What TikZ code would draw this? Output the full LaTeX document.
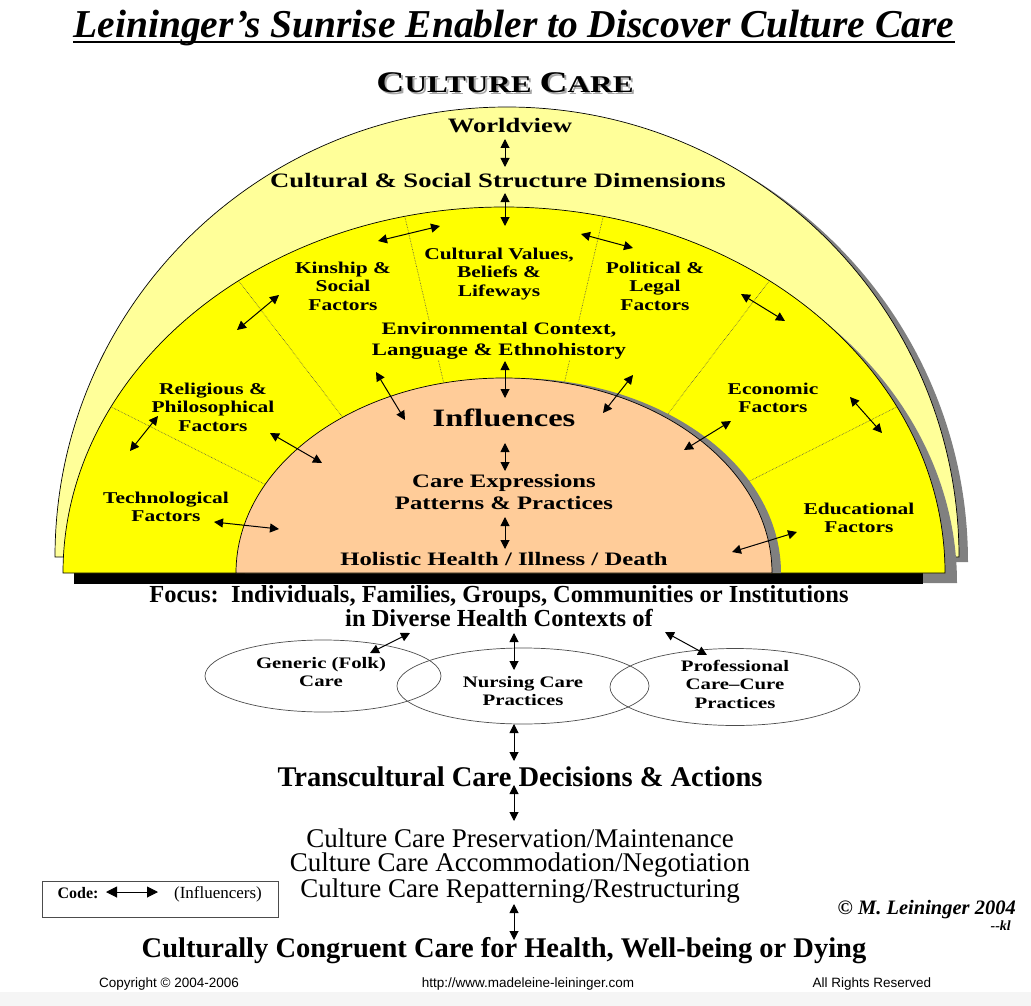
\documentclass[tikz,border=0pt]{standalone}
\usepackage{fontspec}
\setmainfont{Liberation Serif}
\newfontfamily\stretchserif[FakeStretch=1.3]{Liberation Serif}
\newfontfamily\footfont{Liberation Sans}
\usetikzlibrary{arrows.meta,shapes.geometric}

\definecolor{paleyellow}{HTML}{FFFF99}
\definecolor{sunyellow}{HTML}{FFFF00}
\definecolor{peach}{HTML}{FFCC99}
\definecolor{shadowgray}{HTML}{808080}

\newcommand{\culturecare}{{\fontsize{30}{30}\selectfont C}ULTURE {\fontsize{30}{30}\selectfont C}ARE}

\tikzset{
  infl/.style={{Triangle[length=9pt,width=9pt]}-{Triangle[length=9pt,width=9pt]}, line width=1pt},
  divider/.style={densely dotted, line width=0.6pt, black!70},
  heading/.style={font=\stretchserif\bfseries\fontsize{24}{24}\selectfont, inner sep=0pt, anchor=base},
  layer/.style={font=\stretchserif\bfseries\fontsize{20.5}{23}\selectfont, inner sep=0pt, anchor=base},
  factor/.style={font=\stretchserif\bfseries\fontsize{16.5}{18.5}\selectfont, align=center, inner sep=0pt},
  core/.style={font=\stretchserif\bfseries\fontsize{19}{22}\selectfont, align=center, inner sep=0pt},
  care/.style={draw=black!70, line width=0.7pt, ellipse, inner sep=0pt},
  caretext/.style={font=\stretchserif\bfseries\fontsize{16}{18.5}\selectfont, align=center, inner sep=0pt},
  outcome/.style={font=\bfseries\fontsize{28.5}{30}\selectfont, inner sep=0pt, anchor=base},
  footer/.style={font=\footfont\fontsize{13.5}{15}\selectfont, inner sep=0pt, anchor=base},
}

\begin{document}
\begin{tikzpicture}[x=1pt,y=-1pt]
    \useasboundingbox (0,0) rectangle (1031,1006);
    \fill[black!4] (0,992) rectangle (1031,1006);

    % Title
    \node[font=\bfseries\itshape\fontsize{39.5}{42}\selectfont, inner sep=0pt, anchor=base] (title) at (514,38)
        {Leininger’s Sunrise Enabler to Discover Culture Care};
    \draw[line width=1.8pt] ([yshift=-4pt]title.base west) -- ([yshift=-4pt]title.base east);

    % Heading with grey shadow
    \node[heading, text=black!35] (headshadow) at (507,95) {\culturecare};
    \node[heading] (heading) at (505,93) {\culturecare};

    % Outer arch (worldview)
    \fill[shadowgray] (64,562) arc[start angle=180, end angle=0, x radius=452pt, y radius=450pt] -- cycle;
    \draw[fill=paleyellow, line width=0.7pt] (55,557) arc[start angle=180, end angle=0, x radius=452pt, y radius=450pt] -- cycle;

    % Middle arch (social structure factors) and horizon bar
    \fill[shadowgray] (75,583) arc[start angle=180, end angle=0, x radius=441pt, y radius=366pt] -- cycle;
    \fill[black] (74,573) rectangle (923,584);
    \draw[fill=sunyellow, line width=0.7pt] (63,573) arc[start angle=180, end angle=0, x radius=441pt, y radius=366pt] -- cycle;

    % Sector dividers
    \foreach \a in {27,53,77,103,127,153}
        \draw[divider] ({504+441*cos(\a)},{573-366*sin(\a)}) -- ({504+268*cos(\a)},{573-195*sin(\a)});

    % Inner arch (care expressions)
    \fill[shadowgray] (245,573) arc[start angle=180, end angle=0, x radius=268pt, y radius=195pt] -- cycle;
    \draw[fill=peach, line width=0.7pt] (236,573) arc[start angle=180, end angle=0, x radius=268pt, y radius=195pt] -- cycle;

    % Outer arch labels
    \node[layer] (worldview) at (510,133) {Worldview};
    \node[layer] (dimensions) at (498,187) {Cultural \& Social Structure Dimensions};

    % Factors
    \node[factor] (kinship) at (343,286) {Kinship \&\\Social\\Factors};
    \node[factor] (values) at (499,274) {Cultural Values,\\Beliefs \&\\Lifeways};
    \node[factor] (political) at (655,286) {Political \&\\Legal\\Factors};
    \node[factor, font=\stretchserif\bfseries\fontsize{17.5}{21}\selectfont, fill=sunyellow] (environment) at (499,341)
        {Environmental Context,\\Language \& Ethnohistory};
    \node[factor] (religious) at (213,407) {Religious \&\\Philosophical\\Factors};
    \node[factor] (economic) at (773,398) {Economic\\Factors};
    \node[factor] (technological) at (166,507) {Technological\\Factors};
    \node[factor] (educational) at (859,518) {Educational\\Factors};

    % Inner arch labels
    \node[layer, font=\stretchserif\bfseries\fontsize{25}{27}\selectfont] (influences) at (504,426) {Influences};
    \node[core] (expressions) at (504,492) {Care Expressions\\Patterns \& Practices};
    \node[core, anchor=base] (holistic) at (504,565) {Holistic Health / Illness / Death};

    % Focus and care systems
    \node[font=\bfseries\fontsize{24.5}{21}\selectfont, align=center, inner sep=0pt] (focus) at (499,606)
        {Focus:\ \ Individuals, Families, Groups, Communities or Institutions\\in Diverse Health Contexts of};
    \node[care, minimum width=236pt, minimum height=72pt] (generic) at (323,676) {};
    \node[care, minimum width=252pt, minimum height=76pt] (nursing) at (523,686) {};
    \node[care, minimum width=250pt, minimum height=77pt] (professional) at (735,687) {};
    \node[caretext] (generictext) at (321,672) {Generic (Folk)\\Care};
    \node[caretext] (nursingtext) at (523,691) {Nursing Care\\Practices};
    \node[caretext] (professionaltext) at (735,684) {Professional\\Care–Cure\\Practices};

    % Decisions and modes
    \node[outcome] (decisions) at (520,786) {Transcultural Care Decisions \& Actions};
    \node[font=\fontsize{27}{24.5}\selectfont, align=center, inner sep=0pt] (modes) at (520,866)
        {Culture Care Preservation/Maintenance\\Culture Care Accommodation/Negotiation\\Culture Care Repatterning/Restructuring};
    \node[outcome] (congruent) at (504,957) {Culturally Congruent Care for Health, Well-being or Dying};

    % Code box
    \node[draw=black!70, line width=0.7pt, minimum width=236pt, minimum height=36pt, inner sep=0pt] (codebox) at (160,899) {};
    \node[font=\bfseries\fontsize{16}{18}\selectfont, inner sep=0pt, anchor=base] (codeword) at (78,898) {Code:};
    \node[font=\fontsize{17}{18}\selectfont, inner sep=0pt, anchor=base] (codenote) at (218,898) {(Influencers)};

    % Signature
    \node[font=\bfseries\itshape\fontsize{20.5}{22}\selectfont, inner sep=0pt, anchor=base east] (signature) at (1016,914) {© M. Leininger 2004};
    \node[font=\bfseries\itshape\fontsize{14}{16}\selectfont, inner sep=0pt, anchor=base east] (initials) at (1011,930) {-{}-kl};

    % Footer
    \node[footer] (copyright) at (169,987) {Copyright © 2004-2006};
    \node[footer] (website) at (528,987) {http://www.madeleine-leininger.com};
    \node[footer] (rights) at (872,987) {All Rights Reserved};

    % Arrow ends
    \coordinate (wvA) at (505,139);  \coordinate (wvB) at (505,167);
    \coordinate (csA) at (505,193);  \coordinate (csB) at (505,226);
    \coordinate (kinA) at (378,241); \coordinate (kinB) at (440,226);
    \coordinate (polA) at (581,234); \coordinate (polB) at (633,248);
    \coordinate (secA) at (237,330); \coordinate (secB) at (279,295);
    \coordinate (ecoA) at (741,294); \coordinate (ecoB) at (785,321);
    \coordinate (envA) at (505,361); \coordinate (envB) at (505,398);
    \coordinate (lftA) at (376,372); \coordinate (lftB) at (405,420);
    \coordinate (rgtA) at (633,375); \coordinate (rgtB) at (603,413);
    \coordinate (relA) at (130,451); \coordinate (relB) at (158,416);
    \coordinate (rpeA) at (270,433); \coordinate (rpeB) at (322,463);
    \coordinate (ecpA) at (731,421); \coordinate (ecpB) at (684,450);
    \coordinate (ecrA) at (850,397); \coordinate (ecrB) at (882,433);
    \coordinate (infA) at (505,443); \coordinate (infB) at (505,471);
    \coordinate (tecA) at (214,522); \coordinate (tecB) at (279,529);
    \coordinate (cexA) at (505,517); \coordinate (cexB) at (505,549);
    \coordinate (eduA) at (797,532); \coordinate (eduB) at (732,552);
    \coordinate (fgA) at (410,633);  \coordinate (fgB) at (370,653);
    \coordinate (fnA) at (514,633);  \coordinate (fnB) at (514,670);
    \coordinate (fpA) at (665,632);  \coordinate (fpB) at (707,655);
    \coordinate (ndA) at (514,724);  \coordinate (ndB) at (514,761);
    \coordinate (dmA) at (514,785);  \coordinate (dmB) at (514,821);
    \coordinate (mcA) at (514,904);  \coordinate (mcB) at (514,940);
    \coordinate (codeA) at (106,892); \coordinate (codeB) at (158,892);

    % Influencers
    \foreach \s/\t in {wvA/wvB, csA/csB, kinA/kinB, polA/polB, secA/secB, ecoA/ecoB,
                       envA/envB, lftA/lftB, rgtA/rgtB, relA/relB, rpeA/rpeB, ecpA/ecpB,
                       ecrA/ecrB, infA/infB, tecA/tecB, cexA/cexB, eduA/eduB,
                       fgA/fgB, fnA/fnB, fpA/fpB, ndA/ndB, dmA/dmB, mcA/mcB}
        \draw[infl] (\s) -- (\t);
    \draw[infl, {Triangle[length=11pt,width=11pt]}-{Triangle[length=11pt,width=11pt]}] (codeA) -- (codeB);
\end{tikzpicture}
\end{document}
